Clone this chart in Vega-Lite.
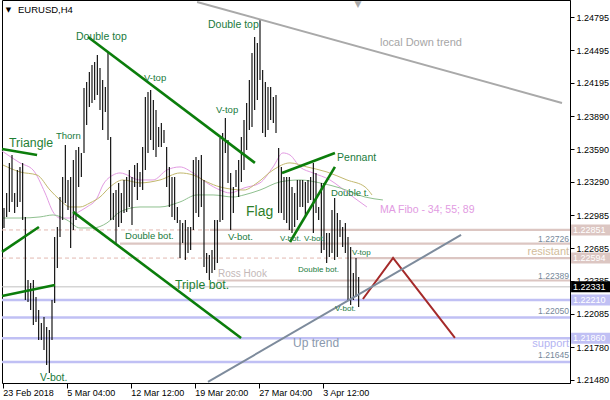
{
  "$schema": "https://vega.github.io/schema/vega-lite/v6.json",
  "width": 568,
  "height": 383,
  "autosize": {"type": "none"},
  "padding": {"left": 2, "top": 0, "right": 40, "bottom": 17},
  "background": "white",
  "config": {
    "view": {"stroke": "black", "strokeWidth": 1},
    "font": "Liberation Sans",
    "axis": {"labelOverlap": false, "labelFlush": false, "labelSeparation": 0, "grid": false}
  },
  "datasets": {
    "bars": [
      {"i":0,"hi":1.23052,"lo":1.22869},{"i":1,"hi":1.23189,"lo":1.22970},{"i":2,"hi":1.23464,"lo":1.23016},{"i":3,"hi":1.23536,"lo":1.23107},
      {"i":4,"hi":1.23189,"lo":1.23007},{"i":5,"hi":1.23399,"lo":1.23061},{"i":6,"hi":1.23427,"lo":1.23107},{"i":7,"hi":1.23464,"lo":1.22942},
      {"i":8,"hi":1.22970,"lo":1.22211},{"i":9,"hi":1.22394,"lo":1.22193},{"i":10,"hi":1.22367,"lo":1.22120},{"i":11,"hi":1.22394,"lo":1.21982},
      {"i":12,"hi":1.22238,"lo":1.22010},{"i":13,"hi":1.22120,"lo":1.21845},{"i":14,"hi":1.22001,"lo":1.21845},{"i":15,"hi":1.22056,"lo":1.21754},
      {"i":16,"hi":1.21964,"lo":1.21617},{"i":17,"hi":1.21937,"lo":1.21544},{"i":18,"hi":1.22211,"lo":1.21845},{"i":19,"hi":1.22787,"lo":1.22184},
      {"i":20,"hi":1.22878,"lo":1.22504},{"i":21,"hi":1.23152,"lo":1.22787},{"i":22,"hi":1.23335,"lo":1.22942},{"i":23,"hi":1.23627,"lo":1.23098},
      {"i":24,"hi":1.23308,"lo":1.23034},{"i":25,"hi":1.23335,"lo":1.22686},{"i":26,"hi":1.23491,"lo":1.22851},{"i":27,"hi":1.23582,"lo":1.22942},
      {"i":28,"hi":1.23609,"lo":1.23244},{"i":29,"hi":1.23555,"lo":1.23335},{"i":30,"hi":1.24149,"lo":1.23555},{"i":31,"hi":1.24204,"lo":1.23810},
      {"i":32,"hi":1.24295,"lo":1.23975},{"i":33,"hi":1.24359,"lo":1.24012},{"i":34,"hi":1.24387,"lo":1.24039},{"i":35,"hi":1.24450,"lo":1.24084},
      {"i":36,"hi":1.24332,"lo":1.23948},{"i":37,"hi":1.24222,"lo":1.23765},{"i":38,"hi":1.24158,"lo":1.23930},{"i":39,"hi":1.24478,"lo":1.23673},
      {"i":40,"hi":1.23701,"lo":1.22942},{"i":41,"hi":1.23189,"lo":1.22942},{"i":42,"hi":1.23216,"lo":1.22732},{"i":43,"hi":1.23281,"lo":1.22878},
      {"i":44,"hi":1.23189,"lo":1.22915},{"i":45,"hi":1.23308,"lo":1.23007},{"i":46,"hi":1.23335,"lo":1.23016},{"i":47,"hi":1.23399,"lo":1.23061},
      {"i":48,"hi":1.23335,"lo":1.22896},{"i":49,"hi":1.23445,"lo":1.23244},{"i":50,"hi":1.23464,"lo":1.23125},{"i":51,"hi":1.23381,"lo":1.23244},
      {"i":52,"hi":1.23609,"lo":1.23216},{"i":53,"hi":1.24066,"lo":1.23399},{"i":54,"hi":1.24112,"lo":1.23555},{"i":55,"hi":1.24130,"lo":1.23673},
      {"i":56,"hi":1.24039,"lo":1.23582},{"i":57,"hi":1.23948,"lo":1.23518},{"i":58,"hi":1.23792,"lo":1.23609},{"i":59,"hi":1.23829,"lo":1.23609},
      {"i":60,"hi":1.23765,"lo":1.23646},{"i":61,"hi":1.23609,"lo":1.23244},{"i":62,"hi":1.23427,"lo":1.23061},{"i":63,"hi":1.23335,"lo":1.22970},
      {"i":64,"hi":1.23335,"lo":1.22942},{"i":65,"hi":1.23061,"lo":1.22915},{"i":66,"hi":1.22942,"lo":1.22595},{"i":67,"hi":1.22915,"lo":1.22732},
      {"i":68,"hi":1.22942,"lo":1.22577},{"i":69,"hi":1.22878,"lo":1.22641},{"i":70,"hi":1.22878,"lo":1.22668},{"i":71,"hi":1.23491,"lo":1.22851},
      {"i":72,"hi":1.23518,"lo":1.23007},{"i":73,"hi":1.23491,"lo":1.22970},{"i":74,"hi":1.23536,"lo":1.23061},{"i":75,"hi":1.23308,"lo":1.22513},
      {"i":76,"hi":1.22641,"lo":1.22458},{"i":77,"hi":1.22622,"lo":1.22394},{"i":78,"hi":1.22668,"lo":1.22458},{"i":79,"hi":1.22942,"lo":1.22485},
      {"i":80,"hi":1.22942,"lo":1.22550},{"i":81,"hi":1.23692,"lo":1.22924},{"i":82,"hi":1.23738,"lo":1.22942},{"i":83,"hi":1.23875,"lo":1.23555},
      {"i":84,"hi":1.23673,"lo":1.23281},{"i":85,"hi":1.23372,"lo":1.22851},{"i":86,"hi":1.23244,"lo":1.23007},{"i":87,"hi":1.23399,"lo":1.23244},
      {"i":88,"hi":1.23491,"lo":1.23152},{"i":89,"hi":1.23701,"lo":1.23289},{"i":90,"hi":1.23856,"lo":1.23399},{"i":91,"hi":1.24012,"lo":1.23582},
      {"i":92,"hi":1.24222,"lo":1.23765},{"i":93,"hi":1.24469,"lo":1.23792},{"i":94,"hi":1.24615,"lo":1.23948},{"i":95,"hi":1.24560,"lo":1.24039},
      {"i":96,"hi":1.24770,"lo":1.24222},{"i":97,"hi":1.24313,"lo":1.23738},{"i":98,"hi":1.24204,"lo":1.23701},{"i":99,"hi":1.24158,"lo":1.23765},
      {"i":100,"hi":1.24158,"lo":1.23856},{"i":101,"hi":1.24066,"lo":1.23829},{"i":102,"hi":1.24084,"lo":1.23738},{"i":103,"hi":1.23600,"lo":1.23007},
      {"i":104,"hi":1.23427,"lo":1.23007},{"i":105,"hi":1.23335,"lo":1.22942},{"i":106,"hi":1.23335,"lo":1.22915},{"i":107,"hi":1.23335,"lo":1.22851},
      {"i":108,"hi":1.23244,"lo":1.22824},{"i":109,"hi":1.23189,"lo":1.22878},{"i":110,"hi":1.23308,"lo":1.22942},{"i":111,"hi":1.23308,"lo":1.23061},
      {"i":112,"hi":1.23308,"lo":1.23061},{"i":113,"hi":1.23290,"lo":1.22970},{"i":114,"hi":1.23308,"lo":1.23098},{"i":115,"hi":1.23335,"lo":1.23125},
      {"i":116,"hi":1.23464,"lo":1.22824},{"i":117,"hi":1.23372,"lo":1.23007},{"i":118,"hi":1.23061,"lo":1.22942},{"i":119,"hi":1.23281,"lo":1.22641},
      {"i":120,"hi":1.23281,"lo":1.22668},{"i":121,"hi":1.22824,"lo":1.22550},{"i":122,"hi":1.22824,"lo":1.22604},{"i":123,"hi":1.23034,"lo":1.22641},
      {"i":124,"hi":1.23143,"lo":1.22577},{"i":125,"hi":1.23007,"lo":1.22604},{"i":126,"hi":1.22942,"lo":1.22787},{"i":127,"hi":1.22878,"lo":1.22695},
      {"i":128,"hi":1.22915,"lo":1.22641},{"i":129,"hi":1.22787,"lo":1.22211},{"i":130,"hi":1.22695,"lo":1.22165},{"i":131,"hi":1.22458,"lo":1.22211},
      {"i":132,"hi":1.22595,"lo":1.22238},{"i":133,"hi":1.22421,"lo":1.22147}
    ],
    "ma": [
      {"ma":"34","t":-0.75,"p":1.23573},{"ma":"34","t":6,"p":1.23464},{"ma":"34","t":10.9,"p":1.23399},{"ma":"34","t":15.4,"p":1.23189},
      {"ma":"34","t":18.4,"p":1.23016},{"ma":"34","t":21,"p":1.22960},{"ma":"34","t":24.75,"p":1.22960},{"ma":"34","t":27.4,"p":1.23007},
      {"ma":"34","t":31.1,"p":1.23061},{"ma":"34","t":34.9,"p":1.23143},{"ma":"34","t":37.1,"p":1.23262},{"ma":"34","t":40.9,"p":1.23353},
      {"ma":"34","t":43.5,"p":1.23372},{"ma":"34","t":51,"p":1.23308},{"ma":"34","t":55.9,"p":1.23308},{"ma":"34","t":61.1,"p":1.23399},
      {"ma":"34","t":66,"p":1.23427},{"ma":"34","t":70.9,"p":1.23372},{"ma":"34","t":76.1,"p":1.23281},{"ma":"34","t":81,"p":1.23216},
      {"ma":"34","t":84.75,"p":1.23189},{"ma":"34","t":90,"p":1.23235},{"ma":"34","t":96,"p":1.23281},{"ma":"34","t":100.9,"p":1.23427},
      {"ma":"34","t":104.6,"p":1.23555},{"ma":"34","t":107.25,"p":1.23536},{"ma":"34","t":111,"p":1.23427},{"ma":"34","t":115.9,"p":1.23372},
      {"ma":"34","t":122.25,"p":1.23308},{"ma":"34","t":126,"p":1.23244},{"ma":"34","t":130.9,"p":1.23152},{"ma":"34","t":136.1,"p":1.23061},
      {"ma":"55","t":-0.4,"p":1.23445},{"ma":"55","t":6,"p":1.23381},{"ma":"55","t":12.4,"p":1.23353},{"ma":"55","t":17.25,"p":1.23216},
      {"ma":"55","t":21,"p":1.23125},{"ma":"55","t":24.75,"p":1.23061},{"ma":"55","t":28.5,"p":1.23061},{"ma":"55","t":32.25,"p":1.23098},
      {"ma":"55","t":36,"p":1.23152},{"ma":"55","t":39.75,"p":1.23244},{"ma":"55","t":44.6,"p":1.23308},{"ma":"55","t":51,"p":1.23281},
      {"ma":"55","t":58.5,"p":1.23308},{"ma":"55","t":66,"p":1.23372},{"ma":"55","t":70.9,"p":1.23353},{"ma":"55","t":76.1,"p":1.23290},
      {"ma":"55","t":81,"p":1.23244},{"ma":"55","t":90,"p":1.23216},{"ma":"55","t":94.9,"p":1.23281},{"ma":"55","t":100.9,"p":1.23399},
      {"ma":"55","t":107.25,"p":1.23464},{"ma":"55","t":113.6,"p":1.23427},{"ma":"55","t":121.1,"p":1.23381},{"ma":"55","t":128.6,"p":1.23308},
      {"ma":"55","t":135.4,"p":1.23244},{"ma":"55","t":138,"p":1.23171},
      {"ma":"89","t":-0.4,"p":1.22960},{"ma":"89","t":6,"p":1.22960},{"ma":"89","t":13.5,"p":1.22970},{"ma":"89","t":18.4,"p":1.22988},
      {"ma":"89","t":23.6,"p":1.22942},{"ma":"89","t":28.5,"p":1.22869},{"ma":"89","t":33.4,"p":1.22869},{"ma":"89","t":38.6,"p":1.22915},
      {"ma":"89","t":43.5,"p":1.23016},{"ma":"89","t":51,"p":1.23061},{"ma":"89","t":58.5,"p":1.23061},{"ma":"89","t":66,"p":1.23107},
      {"ma":"89","t":72.4,"p":1.23171},{"ma":"89","t":78.4,"p":1.23171},{"ma":"89","t":85.9,"p":1.23152},{"ma":"89","t":90,"p":1.23171},
      {"ma":"89","t":96,"p":1.23216},{"ma":"89","t":103.5,"p":1.23290},{"ma":"89","t":111,"p":1.23308},{"ma":"89","t":118.5,"p":1.23281},
      {"ma":"89","t":126,"p":1.23235},{"ma":"89","t":135.4,"p":1.23152},{"ma":"89","t":142.1,"p":1.23125}
    ],
    "levels": [
      {"kind":"dash","p":1.22851,"from":-0.75,"to":212.25},
      {"kind":"dash","p":1.22594,"from":-0.75,"to":212.25},
      {"kind":"zone","p":1.22851,"from":77.25,"to":212.25},
      {"kind":"zone","p":1.22726,"from":43.5,"to":212.25},
      {"kind":"zone","p":1.22594,"from":129.75,"to":212.25},
      {"kind":"zone","p":1.22389,"from":79.9,"to":212.25},
      {"kind":"floor","p":1.22210,"from":-0.75,"to":212.25},
      {"kind":"floor","p":1.22050,"from":-0.75,"to":212.25},
      {"kind":"floor","p":1.21860,"from":-0.75,"to":212.25},
      {"kind":"floor","p":1.21645,"from":-0.75,"to":212.25},
      {"kind":"bid","p":1.22331,"from":-0.75,"to":212.25}
    ],
    "trends": [
      {"kind":"figure","seg":"tri_top","t":-0.75,"p":1.23591},{"kind":"figure","seg":"tri_top","t":12.4,"p":1.23536},
      {"kind":"figure","seg":"tri_bot","t":-0.75,"p":1.22650},{"kind":"figure","seg":"tri_bot","t":13.1,"p":1.22878},
      {"kind":"figure","seg":"base","t":-0.75,"p":1.22247},{"kind":"figure","seg":"base","t":19.1,"p":1.22348},
      {"kind":"figure","seg":"chan_top","t":31.5,"p":1.24615},{"kind":"figure","seg":"chan_top","t":94.1,"p":1.23464},
      {"kind":"figure","seg":"chan_bot","t":25.9,"p":1.23016},{"kind":"figure","seg":"chan_bot","t":88.9,"p":1.21864},
      {"kind":"figure","seg":"pen_top","t":104.25,"p":1.23372},{"kind":"figure","seg":"pen_top","t":124.1,"p":1.23555},
      {"kind":"figure","seg":"pen_bot","t":107.25,"p":1.22741},{"kind":"figure","seg":"pen_bot","t":124.1,"p":1.23427},
      {"kind":"forecast","seg":"proj","t":134.6,"p":1.22220},{"kind":"forecast","seg":"proj","t":145.9,"p":1.22595},{"kind":"forecast","seg":"proj","t":169.1,"p":1.21864},
      {"kind":"down","seg":"down","t":72.4,"p":1.24935},{"kind":"down","seg":"down","t":209.25,"p":1.24012},
      {"kind":"up","seg":"up","t":76.5,"p":1.21462},{"kind":"up","seg":"up","t":171.4,"p":1.22805}
    ],
    "notes": [
      {"text":"Double top","t":27,"p":1.24615,"role":"major"},
      {"text":"V-top","t":52.5,"p":1.24240,"role":"minor"},
      {"text":"Double top","t":76.5,"p":1.24724,"role":"major"},
      {"text":"V-top","t":79.5,"p":1.23948,"role":"minor"},
      {"text":"Triangle","t":1.9,"p":1.23646,"role":"figure"},
      {"text":"Thorn","t":19.5,"p":1.23710,"role":"minor"},
      {"text":"Pennant","t":124.9,"p":1.23509,"role":"major"},
      {"text":"Flag","t":90.75,"p":1.23016,"role":"flag"},
      {"text":"Triple bot.","t":64.1,"p":1.22348,"role":"figure"},
      {"text":"Double bot.","t":45.4,"p":1.22796,"role":"minor"},
      {"text":"V-bot.","t":84,"p":1.22787,"role":"minor"},
      {"text":"V-bot.","t":103.5,"p":1.22769,"role":"recent"},
      {"text":"V-bot.","t":112.5,"p":1.22769,"role":"recent"},
      {"text":"Double t.","t":122.6,"p":1.23189,"role":"minor"},
      {"text":"V-top","t":130.5,"p":1.22641,"role":"recent"},
      {"text":"Double bot.","t":110.25,"p":1.22485,"role":"recent"},
      {"text":"V-bot.","t":124.1,"p":1.22129,"role":"recent"},
      {"text":"V-bot.","t":13.5,"p":1.21498,"role":"major"}
    ],
    "captions": [
      {"text":"local Down trend","t":141,"p":1.24560,"role":"down"},
      {"text":"Up trend","t":108.4,"p":1.21818,"role":"up"},
      {"text":"Ross Hook","t":80.25,"p":1.22449,"role":"hook"},
      {"text":"MA Fibo - 34; 55; 89","t":141,"p":1.23034,"role":"ma"}
    ],
    "sidenotes": [
      {"text":"resistant","p":1.22650,"role":"res"},
      {"text":"support","p":1.21808,"role":"sup"},
      {"text":"1.22726","p":1.22769,"role":"price"},
      {"text":"1.22389","p":1.22430,"role":"price"},
      {"text":"1.22050","p":1.22110,"role":"price"},
      {"text":"1.21645","p":1.21708,"role":"price"}
    ],
    "tags": [
      {"label":"1.22851","p":1.22851,"kind":"zone"},
      {"label":"1.22594","p":1.22594,"kind":"zone"},
      {"label":"1.22331","p":1.22331,"kind":"bid"},
      {"label":"1.22210","p":1.22210,"kind":"floor"},
      {"label":"1.21860","p":1.21860,"kind":"floor"}
    ]
  },
  "resolve": {"scale": {"color": "independent"}},
  "layer": [
    {
      "data": {"name": "levels"},
      "transform": [{"filter": "datum.kind == 'dash'"}],
      "mark": {"type": "rule", "color": "#e2b8b0", "strokeWidth": 1, "strokeDash": [4, 3]},
      "encoding": {
        "x": {
          "field": "from", "type": "quantitative",
          "scale": {"domain": [-0.75, 212.25], "nice": false, "zero": false},
          "axis": {
            "title": null, "grid": false, "domain": false,
            "values": [-0.5, 23.5, 47.5, 71.5, 95.5, 119.5], "tickCount": 6,
            "labelExpr": "datum.value < 0 ? '23 Feb 2018' : datum.value < 24 ? '5 Mar 04:00' : datum.value < 48 ? '12 Mar 12:00' : datum.value < 72 ? '19 Mar 20:00' : datum.value < 96 ? '27 Mar 04:00' : '3 Apr 12:00'",
            "labelAlign": "left", "labelBaseline": "alphabetic", "labelPadding": 7,
            "labelFont": "Liberation Sans", "labelFontSize": 9, "labelColor": "black",
            "tickColor": "black", "tickSize": 5, "labelFlush": false, "labelOverlap": false
          }
        },
        "x2": {"field": "to"},
        "y": {
          "field": "p", "type": "quantitative",
          "scale": {"domain": [1.21452, 1.24953], "nice": false, "zero": false},
          "axis": {
            "title": null, "orient": "right", "grid": false,
            "values": [1.2148, 1.2178, 1.22085, 1.22385, 1.22685, 1.22985, 1.2329, 1.2359, 1.2389, 1.24195, 1.24495, 1.24795],
            "tickCount": 12,
            "format": ".5f", "labelFont": "Liberation Sans", "labelFontSize": 9, "labelColor": "black",
            "tickColor": "black", "tickSize": 4, "labelPadding": 2, "domainColor": "black",
            "labelBaseline": "middle", "labelFlush": false, "labelOverlap": false
          }
        }
      }
    },
    {
      "data": {"name": "levels"},
      "transform": [{"filter": "datum.kind == 'zone'"}],
      "mark": {"type": "rule", "color": "#dcc6c2", "strokeWidth": 2.2},
      "encoding": {"x": {"field": "from", "type": "quantitative", "axis": {"title": null}}, "x2": {"field": "to"}, "y": {"field": "p", "type": "quantitative", "axis": {"title": null}}}
    },
    {
      "data": {"name": "levels"},
      "transform": [{"filter": "datum.kind == 'floor'"}],
      "mark": {"type": "rule", "color": "#c0c0f4", "strokeWidth": 2.5},
      "encoding": {"x": {"field": "from", "type": "quantitative", "axis": {"title": null}}, "x2": {"field": "to"}, "y": {"field": "p", "type": "quantitative", "axis": {"title": null}}}
    },
    {
      "data": {"name": "levels"},
      "transform": [{"filter": "datum.kind == 'bid'"}],
      "mark": {"type": "rule", "color": "#c0c0c0", "strokeWidth": 1},
      "encoding": {"x": {"field": "from", "type": "quantitative", "axis": {"title": null}}, "x2": {"field": "to"}, "y": {"field": "p", "type": "quantitative", "axis": {"title": null}}}
    },
    {
      "data": {"name": "ma"},
      "mark": {"type": "line", "strokeWidth": 1, "interpolate": "monotone"},
      "encoding": {
        "x": {"field": "t", "type": "quantitative", "axis": {"title": null}},
        "y": {"field": "p", "type": "quantitative", "axis": {"title": null}},
        "color": {"field": "ma", "type": "nominal", "scale": {"domain": ["34", "55", "89"], "range": ["#e29be2", "#c2b86e", "#8fc08f"]}, "legend": null}
      }
    },
    {
      "data": {"name": "bars"},
      "mark": {"type": "rule", "color": "black", "strokeWidth": 1.1},
      "encoding": {
        "x": {"field": "i", "type": "quantitative", "axis": {"title": null}},
        "y": {"field": "lo", "type": "quantitative", "axis": {"title": null}},
        "y2": {"field": "hi"}
      }
    },
    {
      "data": {"name": "trends"},
      "transform": [{"filter": "datum.kind == 'figure'"}],
      "mark": {"type": "line", "color": "#0b7d0b", "strokeWidth": 2.6},
      "encoding": {"x": {"field": "t", "type": "quantitative", "axis": {"title": null}}, "y": {"field": "p", "type": "quantitative", "axis": {"title": null}}, "detail": {"field": "seg"}}
    },
    {
      "data": {"name": "trends"},
      "transform": [{"filter": "datum.kind == 'forecast'"}],
      "mark": {"type": "line", "color": "#a52a2a", "strokeWidth": 2},
      "encoding": {"x": {"field": "t", "type": "quantitative", "axis": {"title": null}}, "y": {"field": "p", "type": "quantitative", "axis": {"title": null}}, "detail": {"field": "seg"}}
    },
    {
      "data": {"name": "trends"},
      "transform": [{"filter": "datum.kind == 'down'"}],
      "mark": {"type": "line", "color": "#a9a9a9", "strokeWidth": 2},
      "encoding": {"x": {"field": "t", "type": "quantitative", "axis": {"title": null}}, "y": {"field": "p", "type": "quantitative", "axis": {"title": null}}, "detail": {"field": "seg"}}
    },
    {
      "data": {"name": "trends"},
      "transform": [{"filter": "datum.kind == 'up'"}],
      "mark": {"type": "line", "color": "#7d8b9c", "strokeWidth": 2},
      "encoding": {"x": {"field": "t", "type": "quantitative", "axis": {"title": null}}, "y": {"field": "p", "type": "quantitative", "axis": {"title": null}}, "detail": {"field": "seg"}}
    },
    {
      "data": {"name": "notes"},
      "transform": [{"filter": "datum.role == 'recent'"}],
      "mark": {"type": "text", "align": "left", "baseline": "middle", "font": "Liberation Sans", "fontSize": 8, "color": "#207a3c"},
      "encoding": {"x": {"field": "t", "type": "quantitative", "axis": {"title": null}}, "y": {"field": "p", "type": "quantitative", "axis": {"title": null}}, "text": {"field": "text"}}
    },
    {
      "data": {"name": "notes"},
      "transform": [{"filter": "datum.role == 'minor'"}],
      "mark": {"type": "text", "align": "left", "baseline": "middle", "font": "Liberation Sans", "fontSize": 9.5, "color": "#207a3c"},
      "encoding": {"x": {"field": "t", "type": "quantitative", "axis": {"title": null}}, "y": {"field": "p", "type": "quantitative", "axis": {"title": null}}, "text": {"field": "text"}}
    },
    {
      "data": {"name": "notes"},
      "transform": [{"filter": "datum.role == 'major'"}],
      "mark": {"type": "text", "align": "left", "baseline": "middle", "font": "Liberation Sans", "fontSize": 10.5, "color": "#207a3c"},
      "encoding": {"x": {"field": "t", "type": "quantitative", "axis": {"title": null}}, "y": {"field": "p", "type": "quantitative", "axis": {"title": null}}, "text": {"field": "text"}}
    },
    {
      "data": {"name": "notes"},
      "transform": [{"filter": "datum.role == 'figure'"}],
      "mark": {"type": "text", "align": "left", "baseline": "middle", "font": "Liberation Sans", "fontSize": 12.3, "color": "#1f7f34"},
      "encoding": {"x": {"field": "t", "type": "quantitative", "axis": {"title": null}}, "y": {"field": "p", "type": "quantitative", "axis": {"title": null}}, "text": {"field": "text"}}
    },
    {
      "data": {"name": "notes"},
      "transform": [{"filter": "datum.role == 'flag'"}],
      "mark": {"type": "text", "align": "left", "baseline": "middle", "font": "Liberation Sans", "fontSize": 14, "color": "#2f7f2a"},
      "encoding": {"x": {"field": "t", "type": "quantitative", "axis": {"title": null}}, "y": {"field": "p", "type": "quantitative", "axis": {"title": null}}, "text": {"field": "text"}}
    },
    {
      "data": {"name": "captions"},
      "transform": [{"filter": "datum.role == 'down'"}],
      "mark": {"type": "text", "align": "left", "baseline": "middle", "font": "Liberation Sans", "fontSize": 11, "color": "#a6a6a6"},
      "encoding": {"x": {"field": "t", "type": "quantitative", "axis": {"title": null}}, "y": {"field": "p", "type": "quantitative", "axis": {"title": null}}, "text": {"field": "text"}}
    },
    {
      "data": {"name": "captions"},
      "transform": [{"filter": "datum.role == 'up'"}],
      "mark": {"type": "text", "align": "left", "baseline": "middle", "font": "Liberation Sans", "fontSize": 12, "color": "#8a99ad"},
      "encoding": {"x": {"field": "t", "type": "quantitative", "axis": {"title": null}}, "y": {"field": "p", "type": "quantitative", "axis": {"title": null}}, "text": {"field": "text"}}
    },
    {
      "data": {"name": "captions"},
      "transform": [{"filter": "datum.role == 'hook'"}],
      "mark": {"type": "text", "align": "left", "baseline": "middle", "font": "Liberation Sans", "fontSize": 10, "color": "#c4b8b8"},
      "encoding": {"x": {"field": "t", "type": "quantitative", "axis": {"title": null}}, "y": {"field": "p", "type": "quantitative", "axis": {"title": null}}, "text": {"field": "text"}}
    },
    {
      "data": {"name": "captions"},
      "transform": [{"filter": "datum.role == 'ma'"}],
      "mark": {"type": "text", "align": "left", "baseline": "middle", "font": "Liberation Sans", "fontSize": 10.5, "color": "#e29be2"},
      "encoding": {"x": {"field": "t", "type": "quantitative", "axis": {"title": null}}, "y": {"field": "p", "type": "quantitative", "axis": {"title": null}}, "text": {"field": "text"}}
    },
    {
      "data": {"name": "sidenotes"},
      "transform": [{"filter": "datum.role == 'res'"}],
      "mark": {"type": "text", "align": "right", "baseline": "middle", "font": "Liberation Sans", "fontSize": 11, "color": "#d2bc9a"},
      "encoding": {"x": {"datum": 211.9, "type": "quantitative", "axis": {"title": null}}, "y": {"field": "p", "type": "quantitative", "axis": {"title": null}}, "text": {"field": "text"}}
    },
    {
      "data": {"name": "sidenotes"},
      "transform": [{"filter": "datum.role == 'sup'"}],
      "mark": {"type": "text", "align": "right", "baseline": "middle", "font": "Liberation Sans", "fontSize": 11, "color": "#b4b4f2"},
      "encoding": {"x": {"datum": 211.9, "type": "quantitative", "axis": {"title": null}}, "y": {"field": "p", "type": "quantitative", "axis": {"title": null}}, "text": {"field": "text"}}
    },
    {
      "data": {"name": "sidenotes"},
      "transform": [{"filter": "datum.role == 'price'"}],
      "mark": {"type": "text", "align": "right", "baseline": "middle", "font": "Liberation Sans", "fontSize": 8.6, "color": "#76889a"},
      "encoding": {"x": {"datum": 211.9, "type": "quantitative", "axis": {"title": null}}, "y": {"field": "p", "type": "quantitative", "axis": {"title": null}}, "text": {"field": "text"}}
    },
    {
      "data": {"name": "tags"},
      "mark": {"type": "rect", "height": 11},
      "encoding": {
        "x": {"datum": 212.65, "type": "quantitative", "axis": {"title": null}},
        "x2": {"datum": 227.5},
        "y": {"field": "p", "type": "quantitative", "axis": {"title": null}},
        "color": {"field": "kind", "type": "nominal", "scale": {"domain": ["zone", "bid", "floor"], "range": ["#dcc6c2", "#000000", "#c0c0f4"]}, "legend": null}
      }
    },
    {
      "data": {"name": "tags"},
      "mark": {"type": "text", "align": "left", "baseline": "middle", "font": "Liberation Sans", "fontSize": 9, "color": "white"},
      "encoding": {
        "x": {"datum": 213.4, "type": "quantitative", "axis": {"title": null}},
        "y": {"field": "p", "type": "quantitative", "axis": {"title": null}},
        "text": {"field": "label"}
      }
    },
    {
      "data": {"values": [{"text": "EURUSD,H4", "t": 5.25, "p": 1.24862}]},
      "mark": {"type": "text", "align": "left", "baseline": "middle", "font": "Liberation Sans", "fontSize": 9.5, "color": "black"},
      "encoding": {"x": {"field": "t", "type": "quantitative", "axis": {"title": null}}, "y": {"field": "p", "type": "quantitative", "axis": {"title": null}}, "text": {"field": "text"}}
    },
    {
      "data": {"values": [{"text": "▼", "t": 1.7, "p": 1.24862}]},
      "mark": {"type": "text", "align": "center", "baseline": "middle", "font": "DejaVu Sans", "fontSize": 7, "color": "black"},
      "encoding": {"x": {"field": "t", "type": "quantitative", "axis": {"title": null}}, "y": {"field": "p", "type": "quantitative", "axis": {"title": null}}, "text": {"field": "text"}}
    },
    {
      "data": {"values": [{"text": "▼", "t": 132.75, "p": 1.24916}]},
      "mark": {"type": "text", "align": "center", "baseline": "middle", "font": "DejaVu Sans", "fontSize": 9, "color": "#a8a8a8"},
      "encoding": {"x": {"field": "t", "type": "quantitative", "axis": {"title": null}}, "y": {"field": "p", "type": "quantitative", "axis": {"title": null}}, "text": {"field": "text"}}
    }
  ]
}
